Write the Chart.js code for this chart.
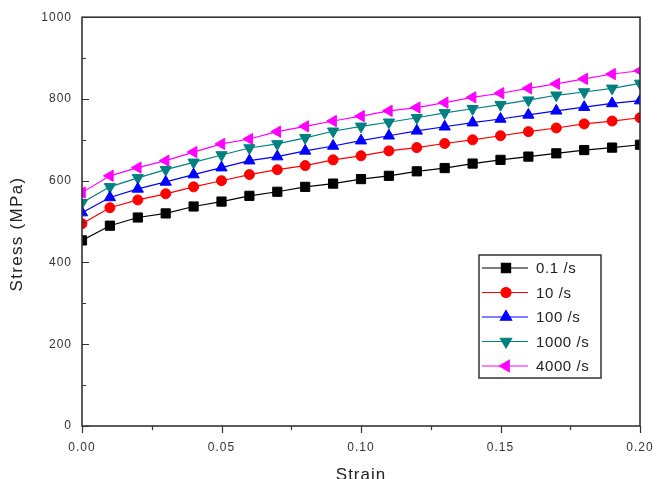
<!DOCTYPE html>
<html>
<head>
<meta charset="utf-8">
<script src="https://cdn.jsdelivr.net/npm/chart.js@4.4.0/dist/chart.umd.min.js"></script>
<style>
  html, body { margin: 0; padding: 0; background: #fff; }
</style>
</head>
<body>
<canvas id="chart" width="657" height="479"></canvas>
<script>
const strain = [0, 0.01, 0.02, 0.03, 0.04, 0.05, 0.06, 0.07, 0.08, 0.09, 0.10,
                0.11, 0.12, 0.13, 0.14, 0.15, 0.16, 0.17, 0.18, 0.19, 0.20];

const rateLabels = ['0.1 /s', '10 /s', '100 /s', '1000 /s', '4000 /s'];

const stress01 = [454, 490, 510, 520, 537, 549, 563, 573, 585, 593, 604,
                  612, 623, 631, 642, 651, 659, 667, 675, 681, 688];
const stress10 = [495, 534, 553, 568, 585, 600, 615, 627, 637, 651, 661,
                  673, 681, 691, 700, 710, 720, 729, 739, 746, 754];
const stress100 = [522, 559, 580, 597, 615, 632, 649, 659, 673, 685, 698,
                   710, 722, 732, 742, 751, 761, 771, 780, 789, 796];
const stress1000 = [546, 585, 607, 627, 645, 663, 680, 690, 705, 721, 733,
                    743, 754, 766, 776, 786, 797, 809, 817, 826, 838];
const stress4000 = [571, 612, 632, 649, 670, 690, 702, 720, 733, 746, 758,
                    771, 779, 791, 804, 814, 826, 837, 849, 861, 869];

const xTicks = [0, 0.05, 0.10, 0.15, 0.20];
const yTicks = [0, 200, 400, 600, 800, 1000];

const series = [stress01, stress10, stress100, stress1000, stress4000];

// marker look for each rate
const looks = [
  { color: '#000000', style: 'rect', rotation: 0, radius: 6.5 },
  { color: '#ff0000', style: 'circle', rotation: 0, radius: 5 },
  { color: '#0000ff', style: 'triangle', rotation: 0, radius: 6.5 },
  { color: '#008080', style: 'triangle', rotation: 180, radius: 6.5 },
  { color: '#ff00ff', style: 'triangle', rotation: 270, radius: 6.5 }
];

const fontFamily = '"Liberation Sans", Arial, sans-serif';

const datasets = series.map((vals, i) => ({
  label: rateLabels[i],
  data: vals.map((v, j) => ({ x: strain[j], y: v })),
  borderColor: looks[i].color,
  backgroundColor: looks[i].color,
  borderWidth: 1.2,
  pointStyle: looks[i].style,
  pointRotation: looks[i].rotation,
  pointRadius: looks[i].radius,
  pointBorderWidth: 1,
  tension: 0
}));

const frameAndTicks = {
  id: 'frameAndTicks',
  beforeDraw(chart) {
    chart.ctx.letterSpacing = '1px';
  },
  afterDatasetsDraw(chart) {
    const { ctx, chartArea: a, scales: { x, y } } = chart;
    ctx.save();
    ctx.strokeStyle = '#333';
    ctx.lineWidth = 1.6;
    ctx.strokeRect(a.left, a.top, a.right - a.left, a.bottom - a.top);
    ctx.lineWidth = 1.2;
    ctx.beginPath();
    for (let v = 0; v <= 1000; v += 100) {
      const py = Math.round(y.getPixelForValue(v)) + 0.5;
      const len = v % 200 === 0 ? 7 : 4;
      ctx.moveTo(a.left, py);
      ctx.lineTo(a.left + len, py);
    }
    for (let i = 0; i <= 8; i++) {
      const px = Math.round(x.getPixelForValue(i * 0.025)) + 0.5;
      const len = i % 2 === 0 ? 7 : 4;
      ctx.moveTo(px, a.bottom);
      ctx.lineTo(px, a.bottom + len);
    }
    ctx.stroke();

    // y axis title
    ctx.fillStyle = '#222';
    ctx.font = '17px ' + fontFamily;
    ctx.letterSpacing = '1.3px';
    ctx.textAlign = 'center';
    ctx.textBaseline = 'middle';
    ctx.translate(17, 234);
    ctx.rotate(-Math.PI / 2);
    ctx.fillText('Stress (MPa)', 0, 0);
    ctx.restore();
  },
  afterDraw(chart) {
    const { ctx } = chart;
    const box = { left: 479, top: 255, w: 122, h: 123 };
    ctx.save();
    ctx.strokeStyle = '#333';
    ctx.lineWidth = 1.5;
    ctx.strokeRect(box.left, box.top, box.w, box.h);
    ctx.font = '15px ' + fontFamily;
    ctx.letterSpacing = '0.6px';
    ctx.textAlign = 'left';
    ctx.textBaseline = 'middle';
    chart.data.datasets.forEach((ds, i) => {
      const ry = box.top + 13 + i * 24.5;
      ctx.strokeStyle = ds.borderColor;
      ctx.fillStyle = ds.backgroundColor;
      ctx.lineWidth = 1.2;
      ctx.beginPath();
      ctx.moveTo(box.left + 3, ry);
      ctx.lineTo(box.left + 49, ry);
      ctx.stroke();
      Chart.helpers.drawPoint(ctx, {
        pointStyle: ds.pointStyle,
        rotation: ds.pointRotation,
        radius: ds.pointRadius,
        borderWidth: 1
      }, box.left + 27, ry);
      ctx.fillStyle = '#222';
      ctx.fillText(ds.label, box.left + 57, ry + 1);
    });
    ctx.restore();
  }
};

new Chart(document.getElementById('chart'), {
  type: 'line',
  data: { datasets: datasets },
  options: {
    responsive: false,
    devicePixelRatio: 1,
    animation: false,
    layout: { padding: { top: 16, right: 17, left: 0, bottom: 0 } },
    plugins: {
      legend: { display: false },
      tooltip: { enabled: false }
    },
    scales: {
      x: {
        type: 'linear',
        min: 0,
        max: 0.2,
        afterFit: s => { s.height = 53; s.paddingRight = 0; s.paddingLeft = 0; },
        afterBuildTicks: s => {
          s.ticks = xTicks.map(v => ({ value: v }));
        },
        grid: { display: false, drawTicks: false },
        border: { display: false },
        ticks: {
          padding: 14,
          color: '#333',
          maxRotation: 0,
          font: { size: 12, family: fontFamily },
          callback: v => v.toFixed(2)
        },
        title: {
          display: true,
          text: 'Strain',
          color: '#222',
          font: { size: 17, family: fontFamily },
          padding: { top: 0, bottom: -7 }
        }
      },
      y: {
        min: 0,
        max: 1000,
        afterFit: s => { s.width = 82; },
        afterBuildTicks: s => {
          s.ticks = yTicks.map(v => ({ value: v }));
        },
        grid: { display: false, drawTicks: false },
        border: { display: false },
        ticks: {
          padding: 10,
          color: '#333',
          font: { size: 12, family: fontFamily },
          callback: v => String(v)
        }
      }
    }
  },
  plugins: [frameAndTicks]
});
</script>
</body>
</html>
